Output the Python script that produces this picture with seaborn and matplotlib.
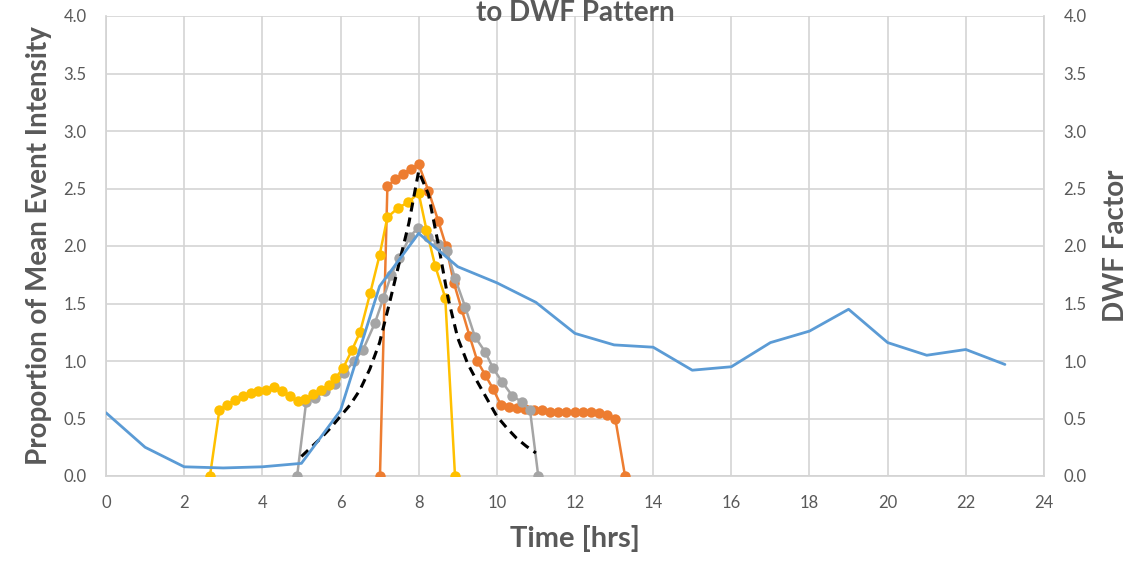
import matplotlib
matplotlib.use("Agg")
import matplotlib.pyplot as plt
import seaborn as sns
import numpy as np

# ---------------- data ----------------
dwf_hours = list(range(24))
dwf_factor = [0.55, 0.25, 0.08, 0.07, 0.08, 0.11, 0.57, 1.65, 2.11, 1.82, 1.68, 1.51,
              1.24, 1.14, 1.12, 0.92, 0.95, 1.16, 1.26, 1.45, 1.16, 1.05, 1.10, 0.97]

yellow_t = [2.66, 2.9, 3.1, 3.3, 3.5, 3.7, 3.9, 4.1, 4.3, 4.5, 4.7, 4.9, 5.1, 5.3, 5.5,
            5.7, 5.87, 6.07, 6.3, 6.5, 6.76, 7.0, 7.2, 7.47, 7.73, 8.0, 8.2, 8.42, 8.68, 8.93]
yellow_v = [0.0, 0.57, 0.62, 0.66, 0.70, 0.72, 0.74, 0.75, 0.77, 0.74, 0.70, 0.65, 0.67, 0.71,
            0.75, 0.79, 0.85, 0.94, 1.10, 1.25, 1.59, 1.92, 2.25, 2.33, 2.38, 2.46, 2.14, 1.83,
            1.55, 0.0]

grey_t = [4.89, 5.12, 5.35, 5.6, 5.85, 6.1, 6.35, 6.58, 6.88, 7.1, 7.3, 7.5, 7.78, 7.98,
          8.25, 8.5, 8.72, 8.93, 9.19, 9.44, 9.7, 9.9, 10.13, 10.39, 10.65, 10.85, 11.06]
grey_v = [0.0, 0.64, 0.68, 0.74, 0.80, 0.90, 1.00, 1.10, 1.33, 1.55, 1.75, 1.90, 2.08, 2.16,
          2.08, 2.02, 1.96, 1.72, 1.47, 1.21, 1.08, 0.94, 0.82, 0.70, 0.64, 0.57, 0.0]

orange_t = [7.01, 7.2, 7.4, 7.6, 7.8, 8.0, 8.25, 8.5, 8.7, 8.9, 9.1, 9.3, 9.5, 9.7, 9.9,
            10.1, 10.31, 10.52, 10.73, 10.94, 11.15, 11.36, 11.57, 11.78, 11.99, 12.2, 12.41,
            12.62, 12.83, 13.03, 13.28]
orange_v = [0.0, 2.52, 2.58, 2.63, 2.67, 2.71, 2.48, 2.22, 2.00, 1.68, 1.45, 1.22, 1.00, 0.88,
            0.76, 0.62, 0.60, 0.59, 0.58, 0.57, 0.57, 0.56, 0.56, 0.56, 0.56, 0.56, 0.56, 0.55,
            0.53, 0.50, 0.0]

dash_t = [5.0, 5.25, 5.5, 5.75, 6.0, 6.25, 6.5, 6.75, 7.0, 7.25, 7.5, 7.75, 8.0, 8.25, 8.5,
          8.75, 9.0, 9.25, 9.5, 9.75, 10.0, 10.25, 10.5, 10.75, 11.0]
dash_v = [0.17, 0.25, 0.33, 0.42, 0.52, 0.62, 0.75, 0.93, 1.16, 1.50, 1.85, 2.20, 2.65, 2.45,
          2.02, 1.55, 1.20, 0.98, 0.82, 0.67, 0.52, 0.42, 0.33, 0.26, 0.20]

title_text = "to DWF Pattern"
x_label = "Time [hrs]"
y_label_left = "Proportion of Mean Event Intensity"
y_label_right = "DWF Factor"

# ---------------- style ----------------
sns.set_theme(style="white")
plt.rcParams['font.family'] = ['Lato', 'DejaVu Sans']

BLUE = "#5b9bd5"
ORANGE = "#ed7d31"
GREY = "#a5a5a5"
YELLOW = "#ffc000"
TXT = "#595959"
GRID = "#d4d4d4"

fig = plt.figure(figsize=(11.32, 5.61), dpi=100)
ax = fig.add_axes([106/1132, 1-476/561, (1044-106)/1132, (476-16)/561])

ms = 7.5
lw = 1.8
sns.lineplot(x=orange_t, y=orange_v, ax=ax, color=ORANGE, marker='o', markersize=ms,
             markeredgewidth=0, linewidth=lw, sort=False, estimator=None, zorder=3)
sns.lineplot(x=grey_t, y=grey_v, ax=ax, color=GREY, marker='o', markersize=ms,
             markeredgewidth=0, linewidth=lw, sort=False, estimator=None, zorder=3)
sns.lineplot(x=yellow_t, y=yellow_v, ax=ax, color=YELLOW, marker='o', markersize=ms,
             markeredgewidth=0, linewidth=lw, sort=False, estimator=None, zorder=3)
sns.lineplot(x=dash_t, y=dash_v, ax=ax, color="black", linewidth=2.2, linestyle=(0, (3, 2)),
             sort=False, estimator=None, zorder=5)

ax2 = ax.twinx()
sns.lineplot(x=dwf_hours, y=dwf_factor, ax=ax2, color=BLUE, linewidth=2.0,
             sort=False, estimator=None, zorder=4)

yt = np.arange(0, 4.01, 0.5)
for a in (ax, ax2):
    a.set_ylim(0, 4)
    a.set_xlim(0, 24)
    a.set_yticks(yt)
    a.set_yticklabels([f"{v:.1f}" for v in yt])
    a.tick_params(axis='y', length=0, labelsize=12, colors=TXT, pad=14)
    for s in a.spines.values():
        s.set_visible(False)

ax.set_xticks(range(0, 25, 2))
ax.tick_params(axis='x', length=0, labelsize=12, colors=TXT, pad=14)
ax.grid(True, color=GRID, linewidth=1.2)
ax.set_axisbelow(True)
ax.spines['left'].set_visible(True)
ax.spines['left'].set_color(GRID)
ax2.spines['right'].set_visible(True)
ax2.spines['right'].set_color(GRID)
ax.spines['bottom'].set_visible(True)
ax.spines['bottom'].set_color(GRID)

ax2.set_zorder(ax.get_zorder() + 1)
ax2.patch.set_visible(False)

ax.set_xlabel(x_label, fontsize=21, fontweight='bold', color=TXT, labelpad=10)
ax.set_ylabel(y_label_left, fontsize=20, fontweight='bold', color=TXT, labelpad=8)
ax2.set_ylabel(y_label_right, fontsize=20, fontweight='bold', color=TXT, labelpad=12)

fig.text(575/1132, 1-13/561, title_text, ha='center', va='center', fontsize=20,
         fontweight='bold', color=TXT)

fig.savefig("out.png", dpi=100)
